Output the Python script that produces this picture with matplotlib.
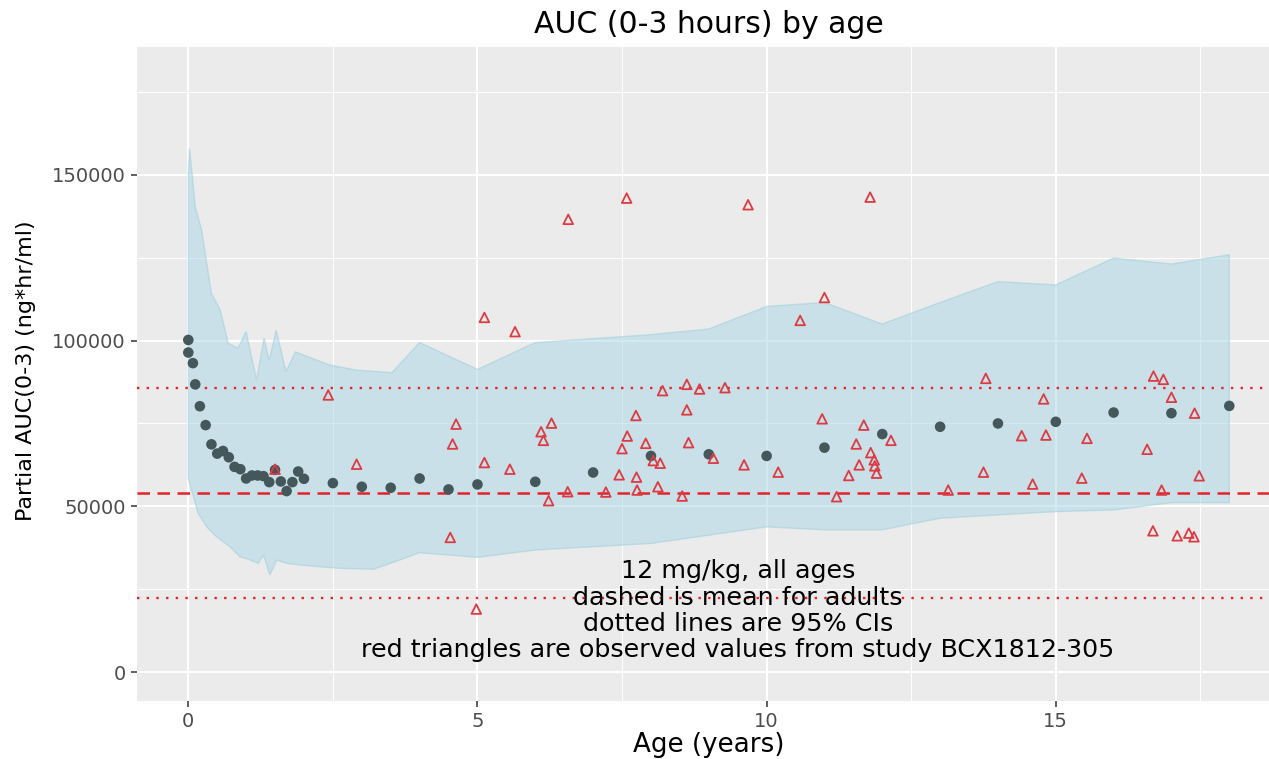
import numpy as np
import matplotlib.pyplot as plt

# simulated median AUC by age (dark points)
sim_age = [0, 0, 0.08, 0.12, 0.2, 0.3, 0.4, 0.5, 0.6, 0.7, 0.8, 0.9, 1.0, 1.1, 1.2, 1.3,
           1.4, 1.5, 1.6, 1.7, 1.8, 1.9, 2.0, 2.5, 3, 3.5, 4, 4.5, 5, 6, 7, 8, 9, 10,
           11, 12, 13, 14, 15, 16, 17, 18]
sim_auc = [100200, 96400, 93200, 86800, 80200, 74500, 68700, 65900, 66700, 64800, 61900,
           61200, 58400, 59300, 59300, 59100, 57300, 61000, 57500, 54600, 57300, 60500,
           58300, 57000, 55900, 55600, 58400, 55100, 56600, 57400, 60200, 65200, 65700,
           65200, 67700, 71800, 74000, 75000, 75500, 78300, 78100, 80300]

# 95% band, upper and lower edges
up_age = [0, 0.02, 0.06, 0.12, 0.23, 0.4, 0.55, 0.69, 0.86, 1.0, 1.18, 1.31, 1.4, 1.52,
          1.69, 1.85, 2.45, 2.91, 3.31, 3.52, 4.0, 5.0, 6.0, 7.93, 9.0, 10.0, 11.0, 12.0,
          13.0, 14.0, 15.0, 16.0, 17.0, 18.0]
up_auc = [150000, 158000, 151500, 140400, 133400, 114300, 109300, 99200, 97700, 102700,
          88100, 100700, 94000, 103100, 90600, 96600, 92600, 91100, 90600, 90300, 99400,
          91300, 99400, 101700, 103500, 110300, 111500, 105000, 111500, 117800, 116800,
          124900, 123100, 125900]
lo_age = [0, 0.09, 0.17, 0.32, 0.49, 0.72, 0.89, 1.07, 1.21, 1.3, 1.41, 1.53, 1.7, 1.93,
          2.6, 3.2, 3.5, 4.0, 5.0, 6.0, 7.0, 8.0, 9.0, 10.0, 11.0, 12.0, 13.0, 14.0,
          15.0, 16.0, 17.0, 18.0]
lo_auc = [58500, 52900, 47900, 43800, 40800, 37800, 34800, 33800, 32800, 35300, 29300,
          33800, 32800, 32300, 31300, 31000, 32800, 36000, 34600, 36800, 37800, 38800,
          41300, 43800, 42900, 42900, 46400, 47400, 48400, 48900, 51100, 51100]

# observed values, study BCX1812-305
obs_age = [1.5, 2.42, 2.91, 4.53, 4.57, 4.63, 4.98, 5.12, 5.12, 5.56, 5.65, 6.10, 6.14,
           6.23, 6.28, 6.56, 6.57, 7.22, 7.45, 7.50, 7.58, 7.59, 7.74, 7.75, 7.76, 7.91,
           8.04, 8.12, 8.16, 8.20, 8.54, 8.62, 8.62, 8.65, 8.84, 9.08, 9.28, 9.61, 9.68,
           10.2, 10.58, 10.96, 11.0, 11.21, 11.42, 11.55, 11.60, 11.68, 11.79, 11.80,
           11.86, 11.87, 11.90, 12.15, 13.14, 13.75, 13.79, 14.41, 14.60, 14.79, 14.83,
           15.45, 15.54, 16.58, 16.68, 16.69, 16.83, 16.86, 17.0, 17.10, 17.30, 17.39,
           17.40, 17.48]
obs_auc = [61200, 83600, 62700, 40600, 68800, 74800, 19000, 107000, 63200, 61200, 102700,
           72500, 69900, 51700, 75100, 54400, 136600, 54300, 59500, 67400, 143000, 71200,
           77400, 58800, 54900, 69000, 63800, 55900, 63000, 84900, 53100, 86800, 79100,
           69200, 85400, 64500, 85800, 62500, 141000, 60300, 106100, 76400, 113000, 52900,
           59300, 68800, 62500, 74500, 143300, 66200, 64000, 62200, 60000, 69900, 54900,
           60300, 88600, 71300, 56700, 82400, 71500, 58500, 70500, 67200, 42600, 89300,
           54900, 88300, 82900, 41100, 41900, 40800, 78100, 59200]

adult_mean = 54100
adult_ci = [22400, 85700]

note = ("12 mg/kg, all ages\ndashed is mean for adults\ndotted lines are 95% CIs\n"
        "red triangles are observed values from study BCX1812-305")

fig = plt.figure(figsize=(12.69, 7.59), dpi=100)
ax = fig.add_axes([137/1269, 58/759, 1132/1269, 654/759])
ax.set_facecolor('#EBEBEB')
for s in ax.spines.values():
    s.set_visible(False)

ax.set_xlim(-0.887, 18.687)
ax.set_ylim(-8750, 188600)
ax.set_xticks([0, 5, 10, 15])
ax.set_yticks([0, 50000, 100000, 150000])
ax.set_xticks([2.5, 7.5, 12.5, 17.5], minor=True)
ax.set_yticks([25000, 75000, 125000, 175000], minor=True)
ax.grid(which='major', color='white', lw=1.4)
ax.grid(which='minor', color='white', lw=0.7)
ax.set_axisbelow(True)
ax.tick_params(which='major', length=4, width=1.1, color='#333333', labelcolor='#4D4D4D',
               labelsize=14, pad=4)
ax.tick_params(which='minor', length=0)

band_x = np.r_[up_age, lo_age[::-1]]
band_y = np.r_[up_auc, lo_auc[::-1]]
ax.fill(band_x, band_y, facecolor='#ADD8E6', alpha=0.55, edgecolor='#9fcfdd', lw=1.0)

ax.axhline(adult_mean, color='#e3242b', lw=1.8, ls=(0, (5, 3)))
for v in adult_ci:
    ax.axhline(v, color='#e3242b', lw=1.7, ls=(0, (1, 3.1)))

ax.scatter(sim_age, sim_auc, s=58, color='#44575b', edgecolors='none', zorder=3)
ax.scatter(obs_age, obs_auc, s=48, marker='^', facecolors='none', edgecolors='#dd3b43',
           linewidths=1.3, zorder=4)

ax.text(9.5, 18500, note, ha='center', va='center', multialignment='center',
        fontsize=18.3, color='black', linespacing=1.12)

ax.set_xlabel('Age (years)', fontsize=18.8)
ax.xaxis.set_label_coords(0.5053, -0.0673)
ax.xaxis.label.set_va('center')
ax.set_ylabel('Partial AUC(0-3) (ng*hr/ml)', fontsize=16)
ax.yaxis.set_label_coords(-0.098, 0.5046)
ax.yaxis.label.set_va('center')

fig.text(709/1269, 1 - 33/759, 'AUC (0-3 hours) by age', ha='center', va='baseline',
         fontsize=21.5)

fig.savefig('out.png', dpi=100)
